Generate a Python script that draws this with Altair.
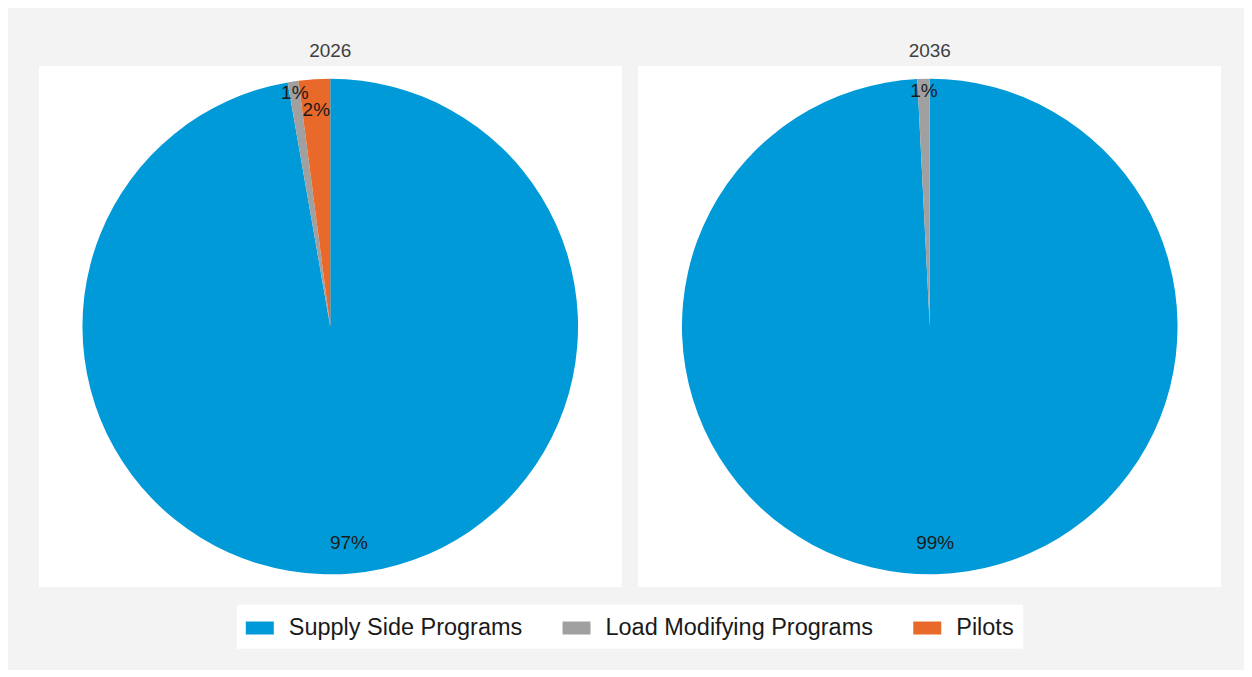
import altair as alt
import pandas as pd

years = ["2026", "2036"]
categories = ["Supply Side Programs", "Load Modifying Programs", "Pilots"]
share_2026 = [0.9725, 0.0070, 0.0205]
share_2036 = [0.9920, 0.0080, 0.0]
colors = ["#009AD8", "#A0A0A0", "#E8692A"]

rows = []
for yr, shares in zip(years, [share_2026, share_2036]):
    for i, (c, v) in enumerate(zip(categories, shares)):
        rows.append({"year": yr, "category": c, "value": v, "idx": i})
df = pd.DataFrame(rows)

color = alt.Color(
    "category:N",
    scale=alt.Scale(domain=categories, range=colors),
    legend=alt.Legend(
        title=None,
        orient="none",
        legendX=198,
        legendY=539,
        direction="horizontal",
        fillColor="white",
        padding=9,
        labelFontSize=23.5,
        labelFont="Liberation Sans",
        labelColor="#1a1a1a",
        labelLimit=600,
        symbolType="M-1,-0.464H1V0.464H-1Z",
        symbolSize=784,
        symbolStrokeWidth=0,
        labelOffset=15,
        columnPadding=40,
    ),
)

W, H = 583, 521

bg = alt.Chart().mark_rect(color="white").encode(
    x=alt.value(0), x2=alt.value(W), y=alt.value(0), y2=alt.value(H)
)

arc = alt.Chart().mark_arc(outerRadius=248, stroke=None).encode(
    theta=alt.Theta("value:Q", stack=True),
    color=color,
    order=alt.Order("idx:Q"),
)

def label_layer(is_load, r):
    cond = "datum.category == 'Load Modifying Programs'"
    if not is_load:
        cond = "datum.category != 'Load Modifying Programs'"
    return alt.Chart().transform_calculate(
        lbl=f"({cond}) && datum.value > 0 ? format(datum.value, '.0%') : ''"
    ).mark_text(radius=r, fontSize=19, font="Liberation Sans", color="#1a1a1a").encode(
        theta=alt.Theta("value:Q", stack=True),
        text="lbl:N",
        order=alt.Order("idx:Q"),
    )

chart = alt.layer(bg, arc, label_layer(False, 217), label_layer(True, 236), data=df).properties(
    width=W, height=H
).facet(
    column=alt.Column(
        "year:N",
        header=alt.Header(
            title=None,
            labelFontSize=19,
            labelFont="Liberation Sans",
            labelColor="#404040",
            labelPadding=5,
        ),
    ),
    spacing=17,
).properties(
    background="#f3f3f3",
    padding={"left": 31, "top": 34, "right": 23, "bottom": 21},
).configure_view(stroke=None)

chart.save("out.html", embed_options={"renderer": "svg", "actions": False})
